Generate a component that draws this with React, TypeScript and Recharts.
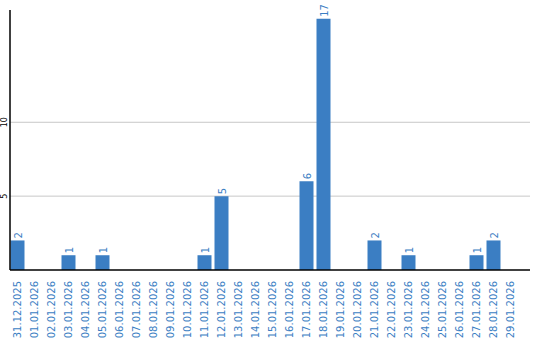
import React from 'react';
import { BarChart, Bar, XAxis, YAxis, CartesianGrid, LabelList } from 'recharts';

const dates = [
  '31.12.2025', '01.01.2026', '02.01.2026', '03.01.2026', '04.01.2026', '05.01.2026',
  '06.01.2026', '07.01.2026', '08.01.2026', '09.01.2026', '10.01.2026', '11.01.2026',
  '12.01.2026', '13.01.2026', '14.01.2026', '15.01.2026', '16.01.2026', '17.01.2026',
  '18.01.2026', '19.01.2026', '20.01.2026', '21.01.2026', '22.01.2026', '23.01.2026',
  '24.01.2026', '25.01.2026', '26.01.2026', '27.01.2026', '28.01.2026', '29.01.2026',
];
const counts = [2, 0, 0, 1, 0, 1, 0, 0, 0, 0, 0, 1, 5, 0, 0, 0, 0, 6, 17, 0, 0, 2, 0, 1, 0, 0, 0, 1, 2, 0];
const yTicks = [5, 10];

const data = dates.map((d, i) => ({ date: d, value: counts[i] }));

const BLUE = '#3b7ec3';
const FONT = 'DejaVu Sans, Verdana, sans-serif';

const XTick = (props: any) => {
  const { x, y, payload } = props;
  return (
    <text
      x={0}
      y={0}
      transform={`translate(${x + 4},${y + 3}) rotate(-90)`}
      textAnchor="end"
      fill={BLUE}
      fontSize={10}
      fontFamily={FONT}
    >
      {payload.value}
    </text>
  );
};

const YTick = (props: any) => {
  const { y, payload } = props;
  return (
    <text
      x={0}
      y={0}
      transform={`translate(7,${y}) rotate(-90)`}
      textAnchor="middle"
      fill="#000"
      fontSize={8}
      fontFamily={FONT}
    >
      {payload.value}
    </text>
  );
};

const ValueLabel = (props: any) => {
  const { x, y, width, value } = props;
  if (!value) return null;
  const cx = x + width / 2 + 4;
  return (
    <text
      x={0}
      y={0}
      transform={`translate(${cx},${y - 2}) rotate(-90)`}
      textAnchor="start"
      fill={BLUE}
      fontSize={10}
      fontFamily={FONT}
    >
      {value}
    </text>
  );
};

export default function App() {
  return (
    <div style={{ position: 'absolute', left: 0, top: 0, width: 540, height: 340, background: '#fff' }}>
      <BarChart
        width={540}
        height={340}
        data={data}
        margin={{ top: 10, right: 10, left: 0, bottom: 0 }}
        barSize={14}
      >
        <CartesianGrid vertical={false} stroke="#c8c8c8" strokeWidth={1} horizontalValues={yTicks} />
        <XAxis
          dataKey="date"
          interval={0}
          height={70}
          tickLine={false}
          axisLine={{ stroke: '#000', strokeWidth: 1.5 }}
          padding={{ left: -1.5, right: 11.5 }}
          tick={<XTick />}
        />
        <YAxis
          width={10}
          domain={[0, 17.6]}
          ticks={yTicks}
          tickLine={false}
          axisLine={{ stroke: '#000', strokeWidth: 1.5 }}
          tick={<YTick />}
          allowDataOverflow
        />
        <Bar dataKey="value" fill={BLUE} isAnimationActive={false}>
          <LabelList dataKey="value" content={<ValueLabel />} />
        </Bar>
      </BarChart>
    </div>
  );
}
